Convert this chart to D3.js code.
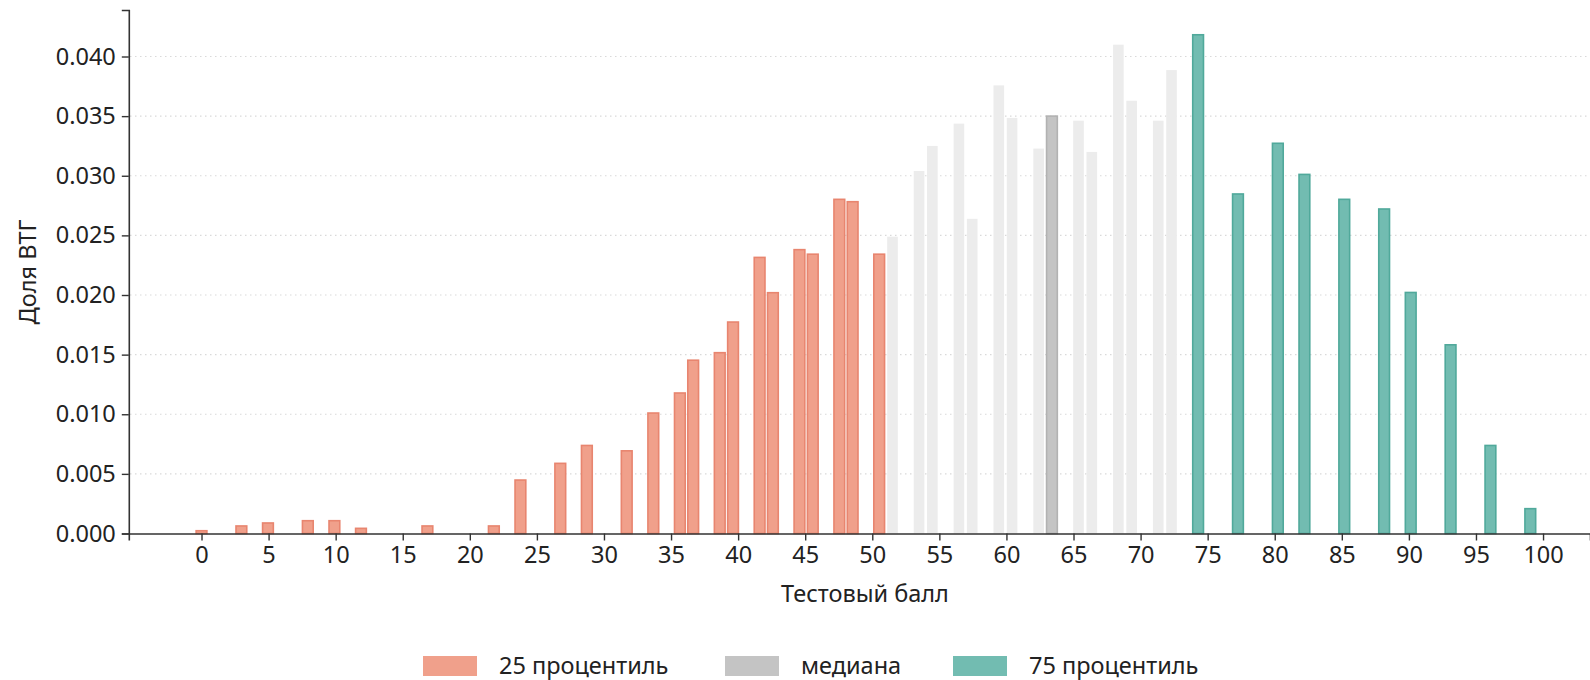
<!DOCTYPE html>
<html>
<head>
<meta charset="utf-8">
<script src="https://cdn.jsdelivr.net/npm/d3@7"></script>
<style>
  html, body { margin: 0; padding: 0; background: #fff; }
  text { font-family: "Noto Sans", "Open Sans", sans-serif; fill: #222; }
</style>
</head>
<body>
<svg id="chart" width="1590" height="680"></svg>
<script>
// ---- data (bin index along the 0..100 score axis, share of graduates) ----
const binWidth = 0.9905; // score units per histogram bin

const lowBins  = [0, 3, 5, 8, 10, 12, 17, 22, 24, 27, 29, 32, 34, 36, 37, 39, 40, 42, 43, 45, 46, 48, 49, 51];
const lowVals  = [0.0003, 0.0007, 0.00095, 0.00114, 0.00114, 0.0005, 0.0007, 0.0007, 0.00455, 0.00595, 0.00745, 0.0070,
                  0.01017, 0.01185, 0.0146, 0.01523, 0.0178, 0.02322, 0.02026, 0.02387, 0.02349, 0.02809, 0.02789, 0.02349];

const midBins  = [52, 54, 55, 57, 58, 60, 61, 63, 66, 67, 69, 70, 72, 73];
const midVals  = [0.02489, 0.0304, 0.0325, 0.03437, 0.02639, 0.03758, 0.03485, 0.03228, 0.03462, 0.0320, 0.04099, 0.03629, 0.03462, 0.03886];

const medianBins = [64];
const medianVals = [0.03507];

const highBins = [75, 78, 81, 83, 86, 89, 91, 94, 97, 100];
const highVals = [0.04189, 0.02854, 0.03279, 0.03018, 0.02809, 0.02728, 0.02028, 0.01589, 0.00745, 0.00215];

const xTicks = [0, 5, 10, 15, 20, 25, 30, 35, 40, 45, 50, 55, 60, 65, 70, 75, 80, 85, 90, 95, 100];
const yTicks = [0, 0.005, 0.010, 0.015, 0.020, 0.025, 0.030, 0.035, 0.040];

const legendLabels = ["25 процентиль", "медиана", "75 процентиль"];
const xTitle = "Тестовый балл";
const yTitle = "Доля ВТГ";

// ---- layout ----
const svg = d3.select("#chart");
const x = d3.scaleLinear().domain([-5.42, 103.5]).range([128.8, 1590]);
const y = d3.scaleLinear().domain([0, 0.0439]).range([533.5, 10]);
const FS = 23.5;

// grid
svg.append("g").selectAll("line").data(yTicks.filter(d => d > 0)).join("line")
  .attr("x1", 130).attr("x2", 1590)
  .attr("y1", d => y(d)).attr("y2", d => y(d))
  .attr("stroke", "#d9d9d9").attr("stroke-width", 1.2)
  .attr("stroke-dasharray", "1.5,3.5");

function drawBars(bins, vals, fill, stroke, frac, sw) {
  const data = bins.map((b, i) => ({ pos: b * binWidth, v: vals[i] }));
  const g = svg.append("g");
  g.selectAll("rect").data(data).join("rect")
    .attr("x", d => x(d.pos - binWidth * frac / 2) + sw / 2)
    .attr("width", d => x(binWidth * frac) - x(0) - sw)
    .attr("y", d => y(d.v) + sw / 2)
    .attr("height", d => y(0) - y(d.v) - sw / 2)
    .attr("fill", fill)
    .attr("stroke", stroke)
    .attr("stroke-width", sw);
}

drawBars(midBins, midVals, "#ececec", "none", 0.8, 0);
drawBars(lowBins, lowVals, "#f0a08b", "#e8856f", 0.93, 1.6);
drawBars(medianBins, medianVals, "#c4c4c4", "#b2b2b2", 0.93, 1.6);
drawBars(highBins, highVals, "#72bcb1", "#50a99b", 0.93, 1.6);

// axes
const xAxis = d3.axisBottom(x).tickValues(xTicks).tickFormat(d3.format("d")).tickSize(7).tickPadding(6);
const gx = svg.append("g").attr("transform", `translate(0,${y(0)})`).call(xAxis);
gx.select(".domain").attr("stroke", "#333").attr("stroke-width", 1.6);
gx.selectAll(".tick line").attr("stroke", "#333").attr("stroke-width", 1.4);
gx.selectAll("text").attr("font-size", FS).attr("fill", "#222");

const yAxis = d3.axisLeft(y).tickValues(yTicks).tickFormat(d3.format(".3f")).tickSize(7).tickPadding(6);
const gy = svg.append("g").attr("transform", `translate(${x.range()[0]},0)`).call(yAxis);
gy.select(".domain").attr("stroke", "#333").attr("stroke-width", 1.6);
gy.selectAll(".tick line").attr("stroke", "#333").attr("stroke-width", 1.4);
gy.selectAll("text").attr("font-size", FS).attr("fill", "#222");

// titles
svg.append("text").attr("x", 865).attr("y", 602).attr("text-anchor", "middle")
  .attr("font-size", FS).text(xTitle);
svg.append("text").attr("transform", "translate(36,272) rotate(-90)").attr("text-anchor", "middle")
  .attr("font-size", FS).text(yTitle);

// legend
const legendColors = ["#f0a08b", "#c4c4c4", "#72bcb1"];
const legendX = [423, 725, 953];
const lg = svg.append("g");
legendLabels.forEach((lab, i) => {
  lg.append("rect").attr("x", legendX[i]).attr("y", 656).attr("width", 54).attr("height", 20)
    .attr("fill", legendColors[i]);
  lg.append("text").attr("x", legendX[i] + 76).attr("y", 674).attr("font-size", FS).text(lab);
});
</script>
</body>
</html>
